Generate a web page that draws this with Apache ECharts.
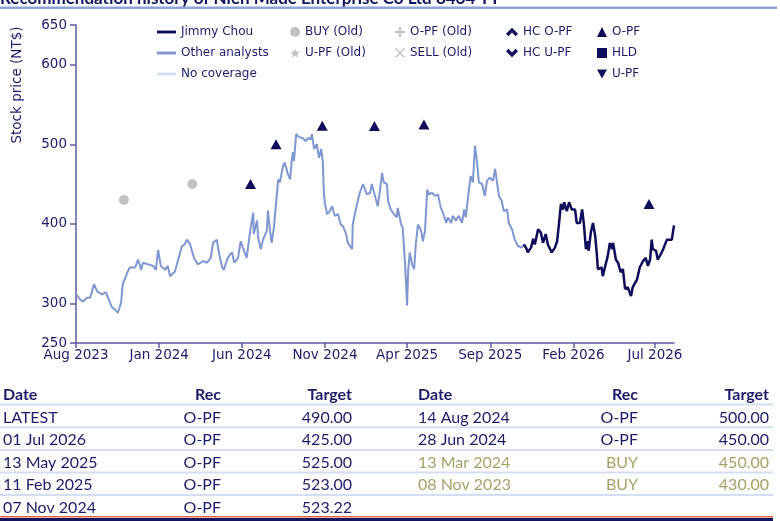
<!DOCTYPE html>
<html>
<head>
<meta charset="utf-8">
<script src="https://cdn.jsdelivr.net/npm/echarts@6/dist/echarts.min.js"></script>
<style>
  html, body { margin: 0; padding: 0; background: #fff; }
  #chart { width: 780px; height: 521px; }
</style>
</head>
<body>
<div id="chart"></div>
<script>
// price history, other analysts coverage
const otherAnalysts = [
  ['2023-08-12', 312], ['2023-08-19', 305], ['2023-08-25', 302], ['2023-09-01', 307], ['2023-09-07', 307],
  ['2023-09-14', 324], ['2023-09-20', 315], ['2023-09-29', 311], ['2023-10-06', 314], ['2023-10-10', 307],
  ['2023-10-17', 295], ['2023-10-23', 292], ['2023-10-28', 288], ['2023-11-03', 301], ['2023-11-06', 324],
  ['2023-11-14', 338], ['2023-11-19', 345], ['2023-11-29', 345], ['2023-12-04', 355], ['2023-12-10', 342],
  ['2023-12-13', 351], ['2023-12-22', 349], ['2024-01-01', 347], ['2024-01-06', 342], ['2024-01-10', 367],
  ['2024-01-15', 347], ['2024-01-23', 342], ['2024-01-28', 347], ['2024-02-01', 334], ['2024-02-10', 340],
  ['2024-02-16', 355], ['2024-02-23', 372], ['2024-02-28', 374], ['2024-03-03', 380], ['2024-03-09', 374],
  ['2024-03-16', 357], ['2024-03-23', 349], ['2024-04-02', 353], ['2024-04-09', 351], ['2024-04-16', 357],
  ['2024-04-20', 376], ['2024-04-27', 380], ['2024-05-01', 363], ['2024-05-07', 345], ['2024-05-10', 342],
  ['2024-05-16', 355], ['2024-05-21', 361], ['2024-05-25', 364], ['2024-05-29', 351], ['2024-06-05', 357],
  ['2024-06-10', 378], ['2024-06-14', 370], ['2024-06-21', 357], ['2024-06-27', 389], ['2024-07-03', 414],
  ['2024-07-04', 387], ['2024-07-10', 404], ['2024-07-12', 383], ['2024-07-17', 368], ['2024-07-21', 380],
  ['2024-07-28', 391], ['2024-07-30', 417], ['2024-08-03', 391], ['2024-08-06', 376], ['2024-08-10', 395],
  ['2024-08-16', 441], ['2024-08-18', 456], ['2024-08-21', 452], ['2024-08-27', 473], ['2024-08-30', 477],
  ['2024-09-05', 462], ['2024-09-09', 456], ['2024-09-12', 481], ['2024-09-14', 490], ['2024-09-16', 479],
  ['2024-09-20', 513], ['2024-09-25', 509], ['2024-10-01', 508], ['2024-10-08', 504], ['2024-10-12', 508],
  ['2024-10-17', 506], ['2024-10-19', 513], ['2024-10-23', 494], ['2024-10-28', 500], ['2024-11-01', 483],
  ['2024-11-05', 494], ['2024-11-08', 479], ['2024-11-10', 437], ['2024-11-12', 425], ['2024-11-16', 412],
  ['2024-11-21', 416], ['2024-11-25', 422], ['2024-11-30', 410], ['2024-12-06', 412], ['2024-12-11', 399],
  ['2024-12-15', 397], ['2024-12-21', 387], ['2024-12-24', 376], ['2025-01-01', 368], ['2025-01-02', 399],
  ['2025-01-10', 425], ['2025-01-15', 439], ['2025-01-21', 450], ['2025-01-28', 437], ['2025-02-03', 439],
  ['2025-02-06', 450], ['2025-02-12', 435], ['2025-02-17', 422], ['2025-02-21', 441], ['2025-02-25', 464],
  ['2025-02-28', 452], ['2025-03-06', 450], ['2025-03-08', 429], ['2025-03-13', 418], ['2025-03-19', 412],
  ['2025-03-24', 408], ['2025-03-26', 420], ['2025-04-01', 399], ['2025-04-04', 395], ['2025-04-08', 353],
  ['2025-04-12', 297], ['2025-04-14', 341], ['2025-04-17', 364], ['2025-04-21', 349], ['2025-04-25', 343],
  ['2025-04-28', 374], ['2025-05-02', 399], ['2025-05-08', 391], ['2025-05-11', 378], ['2025-05-15', 391],
  ['2025-05-19', 443], ['2025-05-22', 437], ['2025-05-28', 439], ['2025-06-02', 435], ['2025-06-08', 437],
  ['2025-06-13', 420], ['2025-06-17', 414], ['2025-06-23', 401], ['2025-06-26', 408], ['2025-07-02', 401],
  ['2025-07-05', 410], ['2025-07-11', 404], ['2025-07-16', 410], ['2025-07-22', 401], ['2025-07-26', 418],
  ['2025-07-29', 408], ['2025-08-02', 433], ['2025-08-07', 460], ['2025-08-11', 452], ['2025-08-15', 498],
  ['2025-08-19', 475], ['2025-08-22', 452], ['2025-08-28', 450], ['2025-09-02', 435], ['2025-09-06', 454],
  ['2025-09-11', 458], ['2025-09-17', 454], ['2025-09-21', 469], ['2025-09-24', 454], ['2025-09-28', 435],
  ['2025-10-03', 429], ['2025-10-07', 416], ['2025-10-13', 418], ['2025-10-16', 401], ['2025-10-22', 393],
  ['2025-10-27', 380], ['2025-11-02', 372], ['2025-11-09', 370], ['2025-11-13', 374]
];

// price history, Jimmy Chou coverage
const jimmyChou = [
  ['2025-11-13', 374], ['2025-11-15', 376], ['2025-11-18', 368], ['2025-11-20', 364], ['2025-11-26', 370],
  ['2025-11-30', 381], ['2025-12-03', 374], ['2025-12-09', 393], ['2025-12-14', 389], ['2025-12-18', 376],
  ['2025-12-23', 387], ['2025-12-27', 374], ['2026-01-03', 364], ['2026-01-09', 370], ['2026-01-13', 378],
  ['2026-01-16', 397], ['2026-01-20', 425], ['2026-01-24', 418], ['2026-01-26', 427], ['2026-01-31', 416],
  ['2026-02-04', 427], ['2026-02-09', 418], ['2026-02-15', 418], ['2026-02-18', 401], ['2026-02-24', 401],
  ['2026-02-28', 418], ['2026-03-03', 401], ['2026-03-07', 368], ['2026-03-11', 378], ['2026-03-12', 366],
  ['2026-03-16', 389], ['2026-03-20', 401], ['2026-03-24', 385], ['2026-03-27', 362], ['2026-03-29', 343],
  ['2026-04-05', 345], ['2026-04-07', 334], ['2026-04-13', 351], ['2026-04-16', 359], ['2026-04-20', 376],
  ['2026-04-24', 368], ['2026-04-26', 376], ['2026-05-01', 355], ['2026-05-05', 351], ['2026-05-10', 339],
  ['2026-05-14', 343], ['2026-05-18', 318], ['2026-05-23', 320], ['2026-05-29', 309], ['2026-06-01', 320],
  ['2026-06-09', 330], ['2026-06-14', 345], ['2026-06-20', 353], ['2026-06-25', 357], ['2026-06-29', 347],
  ['2026-07-03', 355], ['2026-07-06', 380], ['2026-07-08', 368], ['2026-07-14', 366], ['2026-07-17', 355],
  ['2026-07-23', 362], ['2026-07-27', 368], ['2026-08-03', 380], ['2026-08-08', 380], ['2026-08-12', 380],
  ['2026-08-16', 398]
];

// recommendation markers (date, target)
const buyOld = [['2023-11-08', 430], ['2024-03-13', 450]];
const opfMarks = [
  ['2024-06-28', 450], ['2024-08-14', 500], ['2024-11-07', 523.22],
  ['2025-02-11', 523], ['2025-05-13', 525], ['2026-07-01', 425]
];

const xRange = ['2023-08-12', '2026-08-16'];
const xTickDates = ['2023-08-12', '2024-01-12', '2024-06-12', '2024-11-12',
  '2025-04-12', '2025-09-12', '2026-02-12', '2026-07-12'];
const yTicks = [250, 300, 400, 500, 600, 650];

// table rows: date, rec, target
const tableHead = ['Date', 'Rec', 'Target'];
const leftRows = [
  ['LATEST', 'O-PF', '490.00'],
  ['01 Jul 2026', 'O-PF', '425.00'],
  ['13 May 2025', 'O-PF', '525.00'],
  ['11 Feb 2025', 'O-PF', '523.00'],
  ['07 Nov 2024', 'O-PF', '523.22']
];
const rightRows = [
  ['14 Aug 2024', 'O-PF', '500.00'],
  ['28 Jun 2024', 'O-PF', '450.00'],
  ['13 Mar 2024', 'BUY', '450.00'],
  ['08 Nov 2023', 'BUY', '430.00']
];
const oldRecs = ['BUY'];

const MONTHS = ['Jan', 'Feb', 'Mar', 'Apr', 'May', 'Jun', 'Jul', 'Aug', 'Sep', 'Oct', 'Nov', 'Dec'];
const NAVY = '#0d0d5c';
const TEXT = '#1c1c6b';
const LIGHT = '#7f97d1';
const GREY = '#c2c2c2';
const OLIVE = '#a6a267';

const ts = (s) => {
  const p = s.split('-').map(Number);
  return new Date(p[0], p[1] - 1, p[2]).getTime();
};
const toPts = (arr) => arr.map(d => [ts(d[0]), d[1]]);

const ICONS = {
  line: 'path://M0,0H20V3H0Z',
  plus: 'path://M4,0H6V4H10V6H6V10H4V6H0V4H4Z',
  cross: 'path://M1,0L5,4L9,0L10,1L6,5L10,9L9,10L5,6L1,10L0,9L4,5L0,1Z',
  star: 'path://M5,0L6.2,3.6H10L7,5.9L8.1,9.5L5,7.3L1.9,9.5L3,5.9L0,3.6H3.8Z',
  chevUp: 'path://M0,6L5,1L10,6L8,8L5,5L2,8Z',
  chevDown: 'path://M0,3L5,8L10,3L8,1L5,4L2,1Z',
  triDown: 'path://M0,0H10L5,9Z'
};

// one legend column each
const legendCol = (left, itemWidth, itemHeight, data) => ({
  orient: 'vertical',
  left: left,
  top: 25,
  padding: 0,
  itemWidth: itemWidth,
  itemHeight: itemHeight,
  itemGap: 7,
  selectedMode: false,
  textStyle: { color: TEXT, fontFamily: 'DejaVu Sans', fontSize: 12, lineHeight: 14 },
  data: data
});

const emptySeries = (name, symbol, color) => ({
  name: name, type: 'scatter', data: [], symbol: symbol, itemStyle: { color: color, opacity: 1 }
});

// table drawn as graphic text
const tableGraphics = [];
const headY = 395;
const rowY = [418, 440, 462.5, 485, 507.5];
const lineY = [404.5, 427.3, 450, 472.5, 495];
const addTable = (rows, xDate, xRec, xTarget) => {
  const head = [[tableHead[0], xDate, 'left'], [tableHead[1], xRec, 'right'], [tableHead[2], xTarget, 'right']];
  head.forEach(h => tableGraphics.push({
    type: 'text', x: h[1], y: headY,
    style: { text: h[0], fill: TEXT, font: 'bold 16px Lato', align: h[2], verticalAlign: 'middle' }
  }));
  rows.forEach((r, i) => {
    const col = oldRecs.includes(r[1]) ? OLIVE : TEXT;
    [[r[0], xDate, 'left'], [r[1], xRec, 'right'], [r[2], xTarget, 'right']].forEach(c => {
      tableGraphics.push({
        type: 'text', x: c[1], y: rowY[i],
        style: { text: c[0], fill: col, font: '16px Lato', align: c[2], verticalAlign: 'middle' }
      });
    });
  });
};
addTable(leftRows, 3, 221, 352);
addTable(rightRows, 418, 638, 769);
lineY.forEach(y => tableGraphics.push({
  type: 'line', shape: { x1: 0, y1: y, x2: 773, y2: y },
  style: { stroke: '#d3ddf4', lineWidth: 2 }
}));
tableGraphics.push({ type: 'line', shape: { x1: 0, y1: 516.8, x2: 773, y2: 516.8 }, style: { stroke: '#e4643f', lineWidth: 1.5 } });
tableGraphics.push({ type: 'rect', shape: { x: 0, y: 518, width: 773, height: 3 }, style: { fill: '#14145e' } });

const chart = echarts.init(document.getElementById('chart'));
chart.setOption({
  animation: false,
  backgroundColor: '#fff',
  grid: { left: 76, top: 25, width: 598, height: 318, containLabel: false },
  legend: [
    legendCol(157, 19, 3, [
      { name: 'Jimmy Chou', icon: ICONS.line, itemStyle: { color: NAVY } },
      { name: 'Other analysts', icon: ICONS.line, itemStyle: { color: LIGHT } },
      { name: 'No coverage', icon: ICONS.line, itemStyle: { color: '#d6e0f4' } }
    ]),
    legendCol(290, 10, 10, [
      { name: 'BUY (Old)', icon: 'circle', itemStyle: { color: GREY } },
      { name: 'U-PF (Old)', icon: ICONS.star, itemStyle: { color: GREY } }
    ]),
    legendCol(395, 10, 10, [
      { name: 'O-PF (Old)', icon: ICONS.plus, itemStyle: { color: GREY } },
      { name: 'SELL (Old)', icon: ICONS.cross, itemStyle: { color: GREY } }
    ]),
    legendCol(506, 12, 10, [
      { name: 'HC O-PF', icon: ICONS.chevUp, itemStyle: { color: NAVY } },
      { name: 'HC U-PF', icon: ICONS.chevDown, itemStyle: { color: NAVY } }
    ]),
    legendCol(597, 10, 10, [
      { name: 'O-PF', icon: 'triangle', itemStyle: { color: NAVY } },
      { name: 'HLD', icon: 'rect', itemStyle: { color: NAVY } },
      { name: 'U-PF', icon: ICONS.triDown, itemStyle: { color: NAVY } }
    ])
  ],
  xAxis: {
    type: 'value',
    min: ts(xRange[0]),
    max: ts(xRange[1]),
    splitLine: { show: false },
    axisLine: { lineStyle: { color: '#5b5ba3', width: 1.5 } },
    axisTick: { show: true, length: 5, lineStyle: { color: '#5b5ba3', width: 1.5 }, customValues: xTickDates.map(ts) },
    axisLabel: {
      color: TEXT, fontFamily: 'DejaVu Sans', fontSize: 13.5, margin: 5,
      customValues: xTickDates.map(ts),
      formatter: (v) => {
        const d = new Date(v);
        return MONTHS[d.getMonth()] + ' ' + d.getFullYear();
      }
    }
  },
  yAxis: {
    type: 'value',
    min: 250,
    max: 650,
    splitLine: { show: false },
    axisLine: { show: true, lineStyle: { color: '#5b5ba3', width: 1.5 } },
    axisTick: { show: true, length: 6, lineStyle: { color: '#5b5ba3', width: 1.5 }, customValues: yTicks },
    axisLabel: { color: TEXT, fontFamily: 'DejaVu Sans', fontSize: 13.5, margin: 9, customValues: yTicks }
  },
  graphic: [
    {
      type: 'text', x: 0, y: 7,
      style: {
        text: 'Recommendation history of Nien Made Enterprise Co Ltd 8464 TT',
        fill: '#14145e', font: 'bold 17px Lato', verticalAlign: 'bottom'
      }
    },
    { type: 'rect', shape: { x: 0, y: 6.5, width: 777, height: 2.5 }, style: { fill: '#8fa2d9' } },
    {
      type: 'text', x: 17, y: 85, rotation: Math.PI / 2,
      style: {
        text: 'Stock price (NT$)', fill: TEXT, font: '13.5px "DejaVu Sans"',
        align: 'center', verticalAlign: 'middle'
      }
    }
  ].concat(tableGraphics),
  series: [
    {
      name: 'Other analysts', type: 'line', data: toPts(otherAnalysts), showSymbol: false, symbol: 'none',
      lineStyle: { color: LIGHT, width: 2 }, itemStyle: { color: LIGHT }, z: 2
    },
    {
      name: 'Jimmy Chou', type: 'line', data: toPts(jimmyChou), showSymbol: false, symbol: 'none',
      lineStyle: { color: NAVY, width: 2.5 }, itemStyle: { color: NAVY }, z: 3
    },
    { name: 'No coverage', type: 'line', data: [], itemStyle: { color: '#d6e0f4' } },
    {
      name: 'BUY (Old)', type: 'scatter', data: toPts(buyOld), symbol: 'circle', symbolSize: 10,
      itemStyle: { color: GREY, opacity: 1 }, z: 4
    },
    emptySeries('U-PF (Old)', ICONS.star, GREY),
    emptySeries('O-PF (Old)', ICONS.plus, GREY),
    emptySeries('SELL (Old)', ICONS.cross, GREY),
    emptySeries('HC O-PF', ICONS.chevUp, NAVY),
    emptySeries('HC U-PF', ICONS.chevDown, NAVY),
    {
      name: 'O-PF', type: 'scatter', data: toPts(opfMarks), symbol: 'triangle', symbolSize: [11, 10],
      itemStyle: { color: NAVY, opacity: 1 }, z: 4
    },
    emptySeries('HLD', 'rect', NAVY),
    emptySeries('U-PF', ICONS.triDown, NAVY)
  ]
});
</script>
</body>
</html>
